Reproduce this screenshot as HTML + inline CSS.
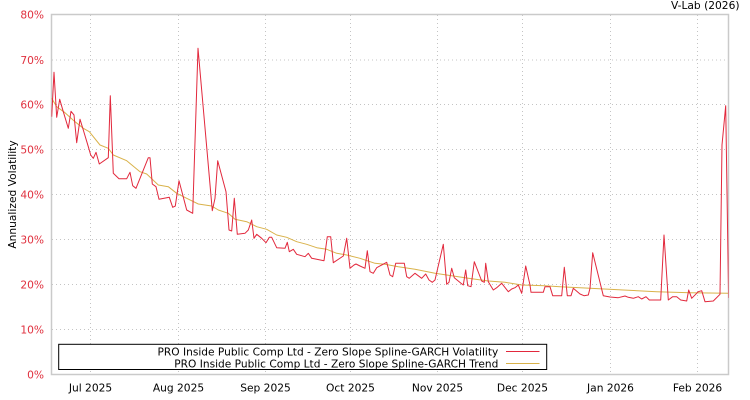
<!DOCTYPE html>
<html>
<head>
<meta charset="utf-8">
<style>
html,body{margin:0;padding:0;background:#fff;}
svg{display:block;}
text{font-family:"DejaVu Sans","Liberation Sans",sans-serif;font-size:10.67px;}
.lg{font-size:10.6px;}
</style>
</head>
<body>
<svg width="750" height="400" viewBox="0 0 750 400" xmlns="http://www.w3.org/2000/svg">
<defs>
<clipPath id="pc"><rect x="51.5" y="14.5" width="677" height="360"/></clipPath>
</defs>
<rect x="0" y="0" width="750" height="400" fill="#fff"/>
<!-- grid -->
<g stroke="#c4c4c4" stroke-width="1" stroke-dasharray="1,3" fill="none">
<line x1="52" y1="60" x2="728" y2="60"/>
<line x1="52" y1="104.5" x2="728" y2="104.5"/>
<line x1="52" y1="149.5" x2="728" y2="149.5"/>
<line x1="52" y1="194.5" x2="728" y2="194.5"/>
<line x1="52" y1="239.5" x2="728" y2="239.5"/>
<line x1="52" y1="284.5" x2="728" y2="284.5"/>
<line x1="52" y1="329.5" x2="728" y2="329.5"/>
<line x1="90.5" y1="15" x2="90.5" y2="374"/>
<line x1="178.5" y1="15" x2="178.5" y2="374"/>
<line x1="265.5" y1="15" x2="265.5" y2="374"/>
<line x1="350.5" y1="15" x2="350.5" y2="374"/>
<line x1="437.5" y1="15" x2="437.5" y2="374"/>
<line x1="522.5" y1="15" x2="522.5" y2="374"/>
<line x1="610.5" y1="15" x2="610.5" y2="374"/>
<line x1="697.5" y1="15" x2="697.5" y2="374"/>
</g>
<!-- frame -->
<rect x="51.5" y="14.5" width="677" height="360" fill="none" stroke="#cacaca" stroke-width="1.5"/>
<!-- series -->
<g clip-path="url(#pc)" fill="none" stroke-linejoin="round">
<polyline stroke="#d9b24a" stroke-width="1" points="51.7,98.3 56.7,106.7 65,112.7 75,121.7 83.3,128.3 89.3,131.7 100,145 108.3,148.3 113.3,155 126.7,160.7 140,171.7 146.7,174 158.3,185 168.3,186.7 176.7,193.3 186.7,198.3 198.3,204 211.7,206 218.3,210 228.3,213.3 235,219.3 246.7,221.7 256.7,226.7 266.7,229.3 276.7,235 286.7,237.3 296.7,241.7 306.7,244.3 316.7,247.7 326.7,249.3 336.7,253.3 346.7,255 360,258.3 365,260 375,263.3 385,264.3 398.3,266.7 415,269.3 435,273.3 451.7,275.7 468.3,278.3 488.3,281 505,282.3 521.7,285 545,285.7 560,286.7 590,288.3 623.3,290 656.7,291.7 690,292.7 728,293.3"/>
<polyline stroke="#e2283c" stroke-width="1" points="51.7,116.7 54,72.3 56.7,117.3 59.7,99.3 63.3,111.7 68.3,128.3 71,111.3 74,115 76.7,142.7 80,119.3 83.3,130 88.3,146.7 90.7,155 93.3,158.3 96,152.3 99.3,164 108.3,157.7 110.3,95.7 113.3,173.3 119,178.7 126.7,178.7 130,172.3 132.7,185.7 136,188.3 148.3,157.7 150,157.7 152.3,184 156,186.7 159,199.3 169.3,197.3 172.7,207.3 175.3,206 179,180.7 186.7,210 192.7,213.3 198,48.3 212.3,210.7 215,198.3 217.7,160.7 226,191.7 229,230 231.7,231 234.3,198.3 237.3,234.3 245,233.3 248.3,230 251.7,220 254,238.3 256.7,234.3 261.7,238.3 266,242.7 269.3,237.3 271.7,237.3 276.7,247.7 285,248.3 287.3,242.3 289.3,251.7 293.3,249.3 296.7,254.3 305,256.7 308.3,253.3 311.7,258.3 316.7,259.3 324,260.7 327.3,236.7 330.7,236.7 333.3,262.7 343.3,256 346.7,238.3 350,268.3 354,265 356,264 360,266 365,268.3 367.3,250.7 370,271.7 373.3,273.3 376.7,267.7 386.7,262.3 390,275 392.7,276.7 395.7,263.3 404.3,263.3 406.7,276.7 409.3,278.3 415,273.3 421.7,278.3 425.7,274 429,280 432.3,282.3 435,280 437.7,268.3 443.3,244.3 446.7,284.3 449,282.3 451.7,268.3 454.3,277.7 461,283.3 463.3,285 465.7,270 467.7,285.7 471,286.7 474.3,261.7 481.7,281 484.3,282.3 485.7,263.3 488.3,281.7 493.3,290 496.7,287.7 501.7,283.3 508.3,291.7 511.7,289 515,287.7 518.3,285 521.7,293.3 525.7,266 530,285 531,292.3 543.3,292.3 545,286.7 550,286.7 552.7,295.7 561.7,295.7 564.3,267.3 567.3,295.7 571,295.7 573.3,288.3 580,294 584,295.7 588.3,295 590,288.3 592.7,252.7 603.3,295.7 610,297 618.3,297.7 625,296 628.3,297.3 633.3,298.3 638.3,296.7 641.7,299 646,296.7 649.3,300 660.7,300 664,235 668.3,300 672.7,296.7 676.7,296.7 680.7,300 686.7,301 688.7,290 691.7,298.3 698.3,291.7 701.7,290.7 705,301.7 713.3,301 720,294.3 722,145 725.7,105.7 728.6,298"/>
</g>
<!-- y tick labels -->
<g fill="#e0303e" text-anchor="end">
<text x="44" y="18.5">80%</text>
<text x="44" y="64">70%</text>
<text x="44" y="108.5">60%</text>
<text x="44" y="153.5">50%</text>
<text x="44" y="198.5">40%</text>
<text x="44" y="243.5">30%</text>
<text x="44" y="288.5">20%</text>
<text x="44" y="333.5">10%</text>
<text x="44" y="378.5">0%</text>
</g>
<!-- x tick labels -->
<g fill="#000" text-anchor="middle">
<text x="90.5" y="391.5">Jul 2025</text>
<text x="178.5" y="391.5">Aug 2025</text>
<text x="265.5" y="391.5">Sep 2025</text>
<text x="350.5" y="391.5">Oct 2025</text>
<text x="437.5" y="391.5">Nov 2025</text>
<text x="522.5" y="391.5">Dec 2025</text>
<text x="610.5" y="391.5">Jan 2026</text>
<text x="697.5" y="391.5">Feb 2026</text>
</g>
<!-- axis title -->
<text x="0" y="0" fill="#000" text-anchor="middle" transform="translate(16,194.5) rotate(-90)">Annualized Volatility</text>
<!-- watermark -->
<text x="739.5" y="9" fill="#000" text-anchor="end">V-Lab (2026)</text>
<!-- legend -->
<rect x="58.7" y="344.3" width="488" height="25.2" fill="#fff" stroke="#000" stroke-width="1"/>
<text class="lg" x="498.3" y="355.6" fill="#000" text-anchor="end">PRO Inside Public Comp Ltd - Zero Slope Spline-GARCH Volatility</text>
<text class="lg" x="498.3" y="367.6" fill="#000" text-anchor="end">PRO Inside Public Comp Ltd - Zero Slope Spline-GARCH Trend</text>
<line x1="506" y1="351.5" x2="539.5" y2="351.5" stroke="#e2283c" stroke-width="1"/>
<line x1="506" y1="363.5" x2="539.5" y2="363.5" stroke="#d9b24a" stroke-width="1"/>
</svg>
</body>
</html>
